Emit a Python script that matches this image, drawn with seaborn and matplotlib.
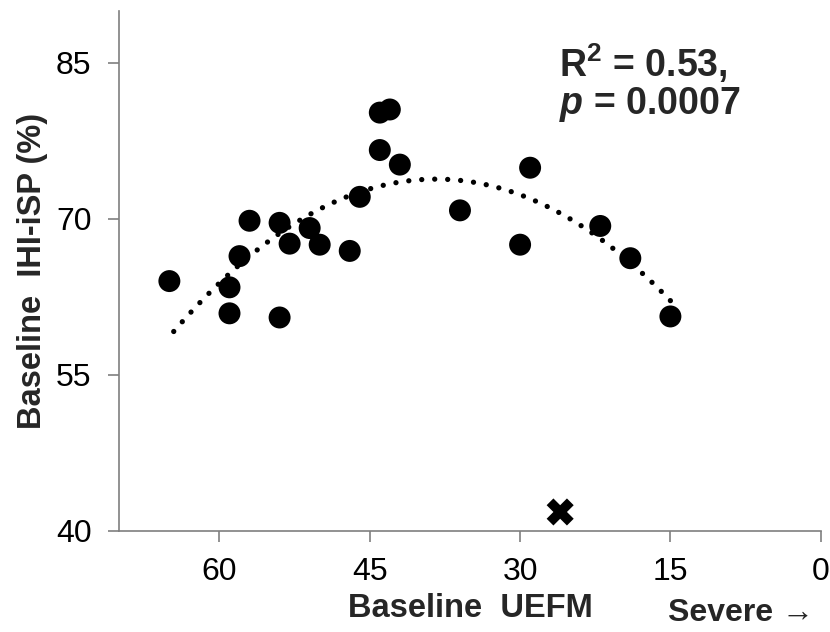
import numpy as np
import pandas as pd
import matplotlib
matplotlib.use("Agg")
import matplotlib.pyplot as plt
import seaborn as sns

# Baseline motor score (UEFM) vs baseline interhemispheric inhibition (IHI-iSP, %)
uefm = [65, 57, 54, 51, 58, 53, 50, 47, 59, 59, 54, 46, 44, 43, 44, 42, 29, 36, 30, 22, 19, 15]
ihi_isp = [64.0, 69.8, 69.6, 69.1, 66.4, 67.6, 67.5, 66.9, 63.4, 60.9, 60.5, 72.1,
           80.2, 80.5, 76.6, 75.2, 74.9, 70.8, 67.5, 69.3, 66.2, 60.6]
# Excluded subject (not part of the fit)
outlier_uefm = [26]
outlier_ihi = [41.8]

x_ticks = [60, 45, 30, 15, 0]
y_ticks = [40, 55, 70, 85]
stats_text = "R$^{\\mathbf{2}}$ = 0.53,\n$\\boldsymbol{p}$ = 0.0007"

df = pd.DataFrame({"UEFM": uefm, "IHI": ihi_isp})
df_out = pd.DataFrame({"UEFM": outlier_uefm, "IHI": outlier_ihi})

sns.set_theme(style="ticks")
plt.rcParams["font.family"] = ["Liberation Sans", "DejaVu Sans"]
plt.rcParams["mathtext.fontset"] = "custom"
plt.rcParams["mathtext.rm"] = "Liberation Sans:bold"
plt.rcParams["mathtext.it"] = "Liberation Sans:bold:italic"
plt.rcParams["mathtext.bf"] = "Liberation Sans:bold"
plt.rcParams["mathtext.bfit"] = "Liberation Sans:bold:italic"

fig = plt.figure(figsize=(8.3, 6.32), dpi=100)
ax = fig.add_axes([0.1437, 0.1603, 0.8451, 0.8228])

sns.scatterplot(data=df, x="UEFM", y="IHI", ax=ax, color="black", s=250,
                edgecolor="none", zorder=3, legend=False)
sns.scatterplot(data=df_out, x="UEFM", y="IHI", ax=ax, color="black", s=380,
                marker="X", edgecolor="none", zorder=3, legend=False)
sns.regplot(data=df, x="UEFM", y="IHI", ax=ax, order=2, ci=None, scatter=False,
            line_kws=dict(color="black", lw=3.8, linestyle=(0, (0.01, 2.45)),
                          dash_capstyle="round", zorder=4))

ax.set_xlim(70, 0)
ax.set_ylim(40, 90)
ax.set_xticks(x_ticks)
ax.set_yticks(y_ticks)
ax.tick_params(axis="both", direction="out", length=8, width=1.2, color="#7f7f7f",
               labelsize=23, labelcolor="black")
ax.tick_params(axis="x", pad=11)
ax.tick_params(axis="y", pad=12)
for side in ("top", "right"):
    ax.spines[side].set_visible(False)
for side in ("left", "bottom"):
    ax.spines[side].set_color("#7f7f7f")
    ax.spines[side].set_linewidth(1.2)

ax.set_xlabel("Baseline  UEFM", fontsize=23.5, fontweight="bold", labelpad=4)
ax.set_ylabel("Baseline  IHI-iSP (%)", fontsize=23.5, fontweight="bold", labelpad=6)

fig.text(0.981, 1 - 621 / 632, "Severe \u2192", fontsize=23, fontweight="bold",
         ha="right", va="baseline")
ax.text(0.627, 0.94, stats_text, transform=ax.transAxes, fontsize=27,
        fontweight="bold", ha="left", va="top", linespacing=1.0)

fig.savefig("out.png", dpi=100)
